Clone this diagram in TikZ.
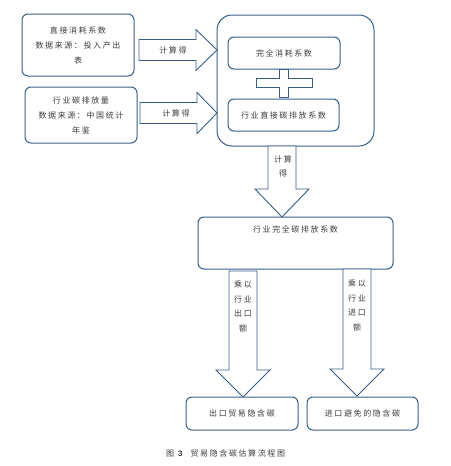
\documentclass[tikz,border=0pt]{standalone}
\usepackage{fontspec}
\newfontfamily\cjk[LetterSpace=20]{Noto Sans CJK SC}
\newfontfamily\capnum{Liberation Sans}
\usetikzlibrary{positioning,calc}
\definecolor{edgeblue}{RGB}{56,93,138}
\definecolor{txtgray}{RGB}{60,60,60}
\tikzset{
  box/.style={draw=edgeblue, line width=1pt, rounded corners=6pt, inner sep=0pt},
  blk/.style={draw=edgeblue, line width=0.9pt, fill=white, line join=miter},
  txt/.style={font=\cjk\fontsize{8}{15}\selectfont, text=txtgray, align=center, inner sep=0pt},
  armtxt/.style={txt, font=\cjk\fontsize{8}{14.5}\selectfont},
}
\begin{document}
\begin{tikzpicture}[x=1pt,y=-1pt]
\useasboundingbox (0,0) rectangle (450,466);

% data sources
\node[box, txt, minimum width=112pt, minimum height=62pt] (coef) at (78,45)
  {直接消耗系数\\数据来源：投入产出\\表};
\node[box, txt, minimum width=112pt, minimum height=56pt] (emis) at (81,115)
  {行业碳排放量\\数据来源：中国统计\\年鉴};

% combined block
\node[box, rounded corners=15pt, minimum width=157pt, minimum height=131pt] (big) at (295.5,80.5) {};
\node[box, txt, minimum width=112pt, minimum height=32pt] (full) at (284,53) {完全消耗系数};
\node[box, txt, minimum width=111pt, minimum height=32pt] (direct) at (283.5,115) {行业直接碳排放系数};
\draw[blk] (279,69) -- (288,69) -- (288,78) -- (312,78) -- (312,87) -- (288,87) -- (288,97)
  -- (279,97) -- (279,87) -- (256,87) -- (256,78) -- (279,78) -- cycle;

% result boxes
\node[box, minimum width=195pt, minimum height=52pt] (total) at (295.5,243) {};
\node[txt, below=9pt of total.north] (totaltxt) {行业完全碳排放系数};
\node[box, txt, minimum width=112pt, minimum height=33pt] (export) at (242,413.5) {出口贸易隐含碳};
\node[box, txt, minimum width=111pt, minimum height=33pt] (import) at (362.5,413.5) {进口避免的隐含碳};

% block arrows
\foreach \xa/\xb/\xc/\yc in {139/196/217/50, 140/197/217/113}
  \draw[blk] (\xa,{\yc-10.5}) -- (\xb,{\yc-10.5}) -- (\xb,{\yc-20.5}) -- (\xc,\yc)
    -- (\xb,{\yc+20.5}) -- (\xb,{\yc+10.5}) -- (\xa,{\yc+10.5}) -- cycle;
\foreach \xc/\ya/\yb/\yc in {282/146/189/217, 243/271/370/397, 357/269/369/396}
  \draw[blk] ({\xc-14},\ya) -- ({\xc-14},\yb) -- ({\xc-27},\yb) -- (\xc,\yc)
    -- ({\xc+27},\yb) -- ({\xc+14},\yb) -- ({\xc+14},\ya) -- cycle;

\node[txt] (calc1) at (173,50) {计算得};
\node[txt] (calc2) at (176,113) {计算得};
\node[armtxt] (calc3) at (283,166.5) {计算\\得};
\node[armtxt] (mulex) at (243,306.5) {乘以\\行业\\出口\\额};
\node[armtxt] (mulim) at (357,305.5) {乘以\\行业\\进口\\额};

% caption
\node[txt, anchor=west] (cap) at (166,453)
  {图\hspace{4pt}{\capnum\bfseries 3}\hspace{8pt}贸易隐含碳估算流程图};
\end{tikzpicture}
\end{document}
